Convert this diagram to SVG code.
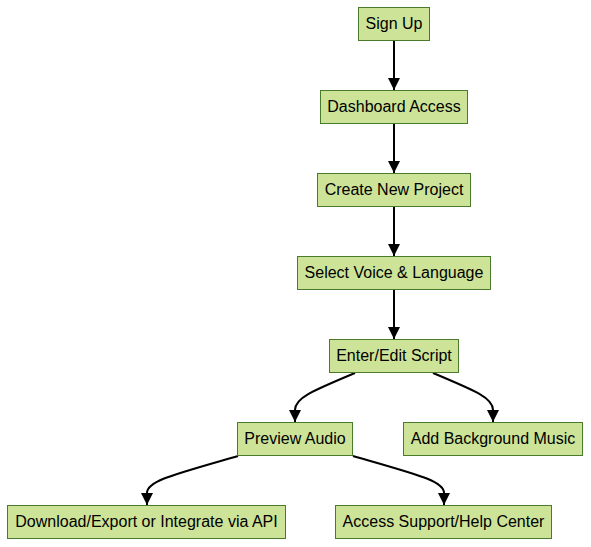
<svg xmlns="http://www.w3.org/2000/svg" width="591" height="547" viewBox="0 0 591 547">
<style>
.n rect{fill:#cde498;stroke:#4a7a2c;stroke-width:1}
.n text{font-family:"Liberation Sans",Arial,sans-serif;font-size:16px;fill:#000;text-anchor:middle;dominant-baseline:central}
.e path{fill:none;stroke:#000;stroke-width:2}
</style>
<defs>
<marker id="ah" viewBox="0 0 12 12" refX="12" refY="6" markerWidth="12" markerHeight="12" markerUnits="userSpaceOnUse" orient="auto">
<path d="M0,0 L12,6 L0,12 z" fill="#000"/>
</marker>
</defs>
<rect width="591" height="547" fill="#fff"/>
<g class="e">
<path d="M394,40 V90" marker-end="url(#ah)"/>
<path d="M394,123 V173" marker-end="url(#ah)"/>
<path d="M394,206 V256" marker-end="url(#ah)"/>
<path d="M394,289 V339" marker-end="url(#ah)"/>
<path d="M355,373 C312,391 295,398 295,410 V422" marker-end="url(#ah)"/>
<path d="M433,373 C476,391 493,398 493,410 V422" marker-end="url(#ah)"/>
<path d="M238,456 C172,475 147,481 147,493 V505" marker-end="url(#ah)"/>
<path d="M353,456 C419,475 444,481 444,493 V505" marker-end="url(#ah)"/>
</g>
<g id="n1" class="n"><rect x="358.5" y="7.5" width="71" height="33"/><text x="394" y="23">Sign Up</text></g>
<g id="n2" class="n"><rect x="320.5" y="90.5" width="147" height="33"/><text x="394" y="106">Dashboard Access</text></g>
<g id="n3" class="n"><rect x="317.5" y="173.5" width="153" height="33"/><text x="394" y="189">Create New Project</text></g>
<g id="n4" class="n"><rect x="297.5" y="256.5" width="193" height="33"/><text x="394" y="272">Select Voice &amp; Language</text></g>
<g id="n5" class="n"><rect x="329.5" y="339.5" width="129" height="33"/><text x="394" y="355">Enter/Edit Script</text></g>
<g id="n6" class="n"><rect x="237.5" y="422.5" width="115" height="33"/><text x="295" y="438">Preview Audio</text></g>
<g id="n7" class="n"><rect x="403.5" y="422.5" width="179" height="33"/><text x="493" y="438">Add Background Music</text></g>
<g id="n8" class="n"><rect x="7.5" y="505.5" width="278" height="33"/><text x="146.5" y="521">Download/Export or Integrate via API</text></g>
<g id="n9" class="n"><rect x="335.5" y="505.5" width="216" height="33"/><text x="443.5" y="521">Access Support/Help Center</text></g>
</svg>
